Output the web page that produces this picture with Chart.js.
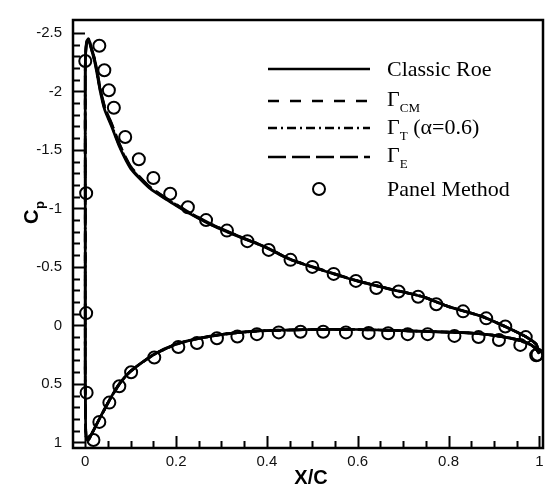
<!DOCTYPE html>
<html>
<head>
<meta charset="utf-8">
<script src="https://cdn.jsdelivr.net/npm/chart.js@4.4.0/dist/chart.umd.min.js"></script>
<style>
  body { margin: 0; background: #fff; }
  #wrap { width: 551px; height: 493px; }
</style>
</head>
<body>
<div id="wrap"><canvas id="cpChart" width="551" height="493"></canvas></div>
<script>
// surface points: lower TE -> leading edge -> upper TE
const curveX = [1.000, 0.990, 0.970, 0.946, 0.900, 0.850, 0.786, 0.700, 0.600, 0.500,
  0.440, 0.380, 0.310, 0.250, 0.200, 0.150, 0.100, 0.075, 0.053, 0.031,
  0.015, 0.007, 0.003, 0.001, 0.000, 0.000, 0.000,
  0.001, 0.003, 0.007, 0.012, 0.022, 0.033, 0.043, 0.058, 0.076,
  0.100, 0.141, 0.185, 0.228, 0.279, 0.337, 0.395, 0.453, 0.525, 0.598,
  0.670, 0.743, 0.800, 0.873, 0.930, 0.967, 0.993, 1.000];

const roeCp = [0.24, 0.19, 0.145, 0.117, 0.085, 0.065, 0.056, 0.045, 0.035, 0.035,
  0.040, 0.047, 0.072, 0.110, 0.160, 0.250, 0.390, 0.500, 0.640, 0.800,
  0.920, 0.980, 0.970, 0.900, 0.500, -1.000, -2.200,
  -2.330, -2.410, -2.440, -2.380, -2.230, -2.000, -1.840, -1.700, -1.520,
  -1.340, -1.175, -1.060, -0.960, -0.856, -0.760, -0.670, -0.560, -0.467, -0.380,
  -0.310, -0.245, -0.160, -0.077, 0.020, 0.090, 0.160, 0.240];

const cmCp = [0.24, 0.19, 0.145, 0.117, 0.085, 0.066, 0.057, 0.046, 0.036, 0.036,
  0.041, 0.048, 0.073, 0.112, 0.162, 0.252, 0.392, 0.502, 0.642, 0.802,
  0.922, 0.982, 0.972, 0.900, 0.500, -1.000, -2.210,
  -2.340, -2.420, -2.450, -2.390, -2.250, -2.020, -1.860, -1.720, -1.540,
  -1.355, -1.185, -1.068, -0.966, -0.861, -0.764, -0.673, -0.563, -0.469, -0.382,
  -0.312, -0.246, -0.161, -0.078, 0.019, 0.090, 0.160, 0.240];

const tCp = [0.24, 0.19, 0.145, 0.117, 0.085, 0.065, 0.056, 0.045, 0.035, 0.035,
  0.040, 0.047, 0.072, 0.111, 0.161, 0.251, 0.391, 0.501, 0.641, 0.801,
  0.921, 0.981, 0.971, 0.900, 0.500, -1.000, -2.205,
  -2.335, -2.415, -2.445, -2.385, -2.240, -2.010, -1.850, -1.710, -1.530,
  -1.348, -1.180, -1.064, -0.963, -0.858, -0.762, -0.671, -0.561, -0.468, -0.381,
  -0.311, -0.245, -0.160, -0.077, 0.020, 0.090, 0.160, 0.240];

const eCp = [0.24, 0.19, 0.145, 0.117, 0.085, 0.066, 0.057, 0.046, 0.036, 0.036,
  0.041, 0.048, 0.073, 0.112, 0.162, 0.252, 0.392, 0.502, 0.642, 0.802,
  0.922, 0.982, 0.972, 0.900, 0.500, -1.000, -2.215,
  -2.345, -2.425, -2.455, -2.395, -2.255, -2.025, -1.865, -1.725, -1.545,
  -1.358, -1.188, -1.070, -0.968, -0.862, -0.765, -0.674, -0.564, -0.470, -0.383,
  -0.312, -0.246, -0.161, -0.078, 0.019, 0.090, 0.160, 0.240];

const panelX = [0.000, 0.031, 0.042, 0.052, 0.063, 0.088, 0.118, 0.150, 0.187, 0.226,
  0.266, 0.312, 0.357, 0.404, 0.452, 0.500, 0.547, 0.596, 0.641, 0.690,
  0.733, 0.773, 0.832, 0.883, 0.925, 0.970, 0.996,
  0.002, 0.002, 0.003, 0.018, 0.031, 0.053, 0.075, 0.101, 0.152, 0.205,
  0.246, 0.290, 0.335, 0.378, 0.426, 0.474, 0.524, 0.574, 0.624, 0.667,
  0.710, 0.754, 0.813, 0.866, 0.911, 0.958, 0.993];
const panelCp = [-2.26, -2.39, -2.18, -2.01, -1.86, -1.61, -1.42, -1.26, -1.125, -1.01,
  -0.90, -0.81, -0.72, -0.645, -0.56, -0.50, -0.44, -0.38, -0.32, -0.29,
  -0.245, -0.18, -0.12, -0.06, 0.01, 0.10, 0.25,
  -1.13, -0.105, 0.575, 0.98, 0.825, 0.66, 0.52, 0.40, 0.275, 0.185,
  0.15, 0.11, 0.095, 0.075, 0.06, 0.055, 0.055, 0.06, 0.065, 0.067,
  0.075, 0.075, 0.09, 0.10, 0.125, 0.167, 0.255];

const xTicks = [0, 0.2, 0.4, 0.6, 0.8, 1];
const yTicks = [-2.5, -2, -1.5, -1, -0.5, 0, 0.5, 1];

function pts(xs, ys) {
  return xs.map((x, i) => ({ x: x, y: ys[i] }));
}

function lineSet(label, ys, dash) {
  return {
    label: label,
    data: pts(curveX, ys),
    showLine: true,
    borderColor: "#000",
    borderWidth: 2.7,
    borderDash: dash,
    pointRadius: 0,
    fill: false,
    tension: 0.2,
  };
}

const frame = {
  id: "frame",
  afterDraw(chart) {
    const c = chart.ctx;
    const a = chart.chartArea;
    const xs = chart.scales.x;
    const ys = chart.scales.y;
    c.save();
    c.strokeStyle = "#000";
    c.lineWidth = 2.5;
    c.setLineDash([]);
    c.strokeRect(a.left, a.top, a.right - a.left, a.bottom - a.top);

    // inward ticks
    c.lineWidth = 2;
    c.beginPath();
    for (let v = 0; v <= 1.0001; v += 0.05) {
      const px = Math.round(xs.getPixelForValue(v)) + 0.5;
      const major = Math.abs(v * 5 - Math.round(v * 5)) < 1e-6;
      c.moveTo(px, a.bottom);
      c.lineTo(px, a.bottom - (major ? 12 : 7));
    }
    for (let v = -2.5; v <= 1.0001; v += 0.1) {
      const py = Math.round(ys.getPixelForValue(v)) + 0.5;
      const major = Math.abs(v * 2 - Math.round(v * 2)) < 1e-6;
      c.moveTo(a.left, py);
      c.lineTo(a.left + (major ? 12 : 7), py);
    }
    c.stroke();

    // axis titles
    c.fillStyle = "#000";
    c.font = "bold 20px 'Liberation Sans', Arial";
    c.textAlign = "center";
    c.textBaseline = "alphabetic";
    c.fillText("X/C", 311, 484);
    c.save();
    c.translate(38, 224);
    c.rotate(-Math.PI / 2);
    c.textAlign = "left";
    c.fillText("C", 0, 0);
    c.font = "bold 13px 'Liberation Sans', Arial";
    c.fillText("p", 15, 6);
    c.restore();

    // legend
    const x0 = 268, x1 = 370, tx = 387;
    const rows = [
      { y: 69, dash: [] },
      { y: 101, dash: [11, 11] },
      { y: 128, dash: [9, 4, 2, 4] },
      { y: 157, dash: [18, 6] },
    ];
    c.lineWidth = 2.5;
    rows.forEach(r => {
      c.setLineDash(r.dash);
      c.beginPath();
      c.moveTo(x0, r.y);
      c.lineTo(x1, r.y);
      c.stroke();
    });
    c.setLineDash([]);
    c.lineWidth = 2;
    c.beginPath();
    c.arc(319, 189, 6, 0, Math.PI * 2);
    c.stroke();

    const big = "22px 'Liberation Serif', 'Times New Roman', serif";
    const small = "13px 'Liberation Serif', 'Times New Roman', serif";
    c.textAlign = "left";
    c.font = big;
    c.fillText("Classic Roe", tx, 76);
    c.fillText("Panel Method", tx, 196);
    const subRows = [
      { y: 106, sub: "CM", tail: "" },
      { y: 134, sub: "T", tail: " (\u03b1=0.6)" },
      { y: 162, sub: "E", tail: "" },
    ];
    subRows.forEach(r => {
      c.font = big;
      c.fillText("\u0393", tx, r.y);
      let w = c.measureText("\u0393").width;
      c.font = small;
      c.fillText(r.sub, tx + w, r.y + 6);
      w += c.measureText(r.sub).width;
      if (r.tail) {
        c.font = big;
        c.fillText(r.tail, tx + w, r.y);
      }
    });
    c.restore();
  },
};

new Chart(document.getElementById("cpChart"), {
  type: "scatter",
  data: {
    datasets: [
      lineSet("Classic Roe", roeCp, []),
      lineSet("CM", cmCp, [11, 11]),
      lineSet("T", tCp, [9, 4, 2, 4]),
      lineSet("E", eCp, [18, 6]),
      {
        label: "Panel Method",
        data: pts(panelX, panelCp),
        showLine: false,
        pointStyle: "circle",
        pointRadius: 6,
        pointBorderWidth: 2,
        pointBorderColor: "#000",
        pointBackgroundColor: "rgba(0,0,0,0)",
      },
    ],
  },
  options: {
    responsive: false,
    animation: false,
    layout: { padding: { left: 0, right: 2, top: 8, bottom: 0 } },
    plugins: {
      legend: { display: false },
      tooltip: { enabled: false },
    },
    scales: {
      x: {
        type: "linear",
        min: -0.027,
        max: 1.008,
        afterBuildTicks: s => { s.ticks = xTicks.map(v => ({ value: v })); },
        afterFit: s => { s.height = 45; },
        grid: { display: false, drawTicks: false },
        border: { display: false },
        ticks: {
          padding: 5,
          color: "#111",
          font: { family: "'Liberation Sans', Arial", size: 15 },
          callback: v => String(v),
        },
      },
      y: {
        type: "linear",
        reverse: true,
        min: -2.61,
        max: 1.048,
        afterBuildTicks: s => { s.ticks = yTicks.map(v => ({ value: v })); },
        afterFit: s => { s.width = 73; },
        grid: { display: false, drawTicks: false },
        border: { display: false },
        ticks: {
          padding: 11,
          color: "#111",
          font: { family: "'Liberation Sans', Arial", size: 15 },
          callback: v => String(v),
        },
      },
    },
  },
  plugins: [frame],
});
</script>
</body>
</html>
